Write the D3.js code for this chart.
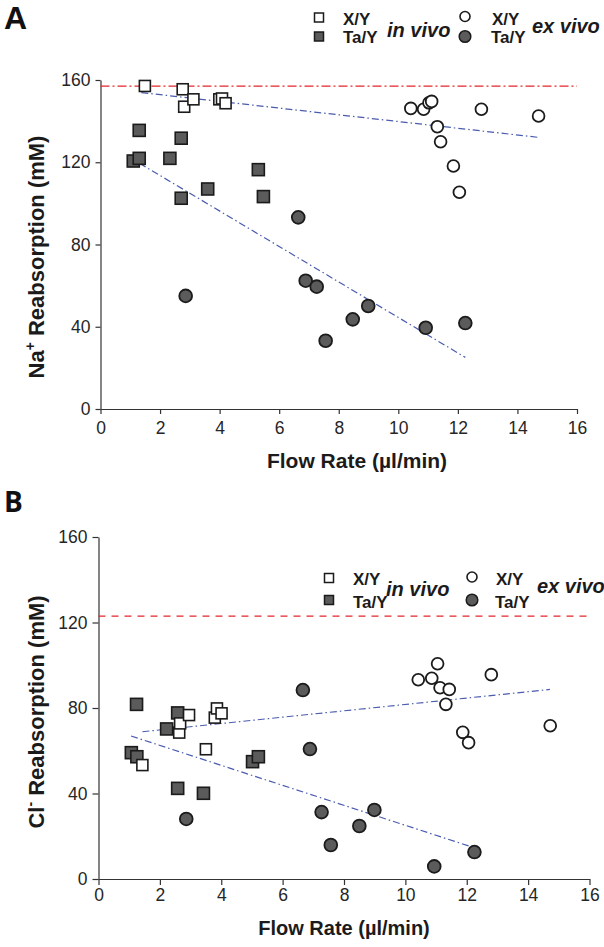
<!DOCTYPE html>
<html><head><meta charset="utf-8">
<script src="https://cdn.jsdelivr.net/npm/d3@7"></script>
<style>body{margin:0;background:#fff;} svg{display:block}</style>
</head><body>
<script>
// ---------- data ----------
const xTicks = [0, 2, 4, 6, 8, 10, 12, 14, 16];
const yTicks = [0, 40, 80, 120, 160];
const seriesNames = ["X/Y", "Ta/Y"];
const groupNames = ["in vivo", "ex vivo"];

// Panel A (Na+)
const A_xyIn_x = [1.49, 2.76, 2.81, 3.12, 3.99, 4.08, 4.20];
const A_xyIn_y = [157.1, 155.5, 147.0, 150.6, 150.6, 151.0, 148.7];
const A_taIn_x = [1.30, 1.10, 1.30, 2.33, 2.71, 2.71, 3.60, 5.30, 5.47];
const A_taIn_y = [135.5, 120.6, 121.9, 121.9, 131.7, 102.5, 107.0, 116.4, 103.3];
const A_xyEx_x = [10.42, 10.85, 11.03, 11.12, 11.31, 11.42, 11.85, 12.05, 12.79, 14.71];
const A_xyEx_y = [146.2, 145.8, 148.9, 149.6, 137.3, 130.0, 118.2, 105.4, 145.8, 142.5];
const A_taEx_x = [2.86, 6.64, 6.89, 7.26, 7.56, 8.47, 8.99, 10.92, 12.25];
const A_taEx_y = [55.0, 93.2, 62.4, 59.5, 33.2, 43.6, 50.1, 39.5, 41.8];
const A_refLine = 157;
const A_trend = [[1.37, 153.9, 14.71, 132.1], [1.31, 119.5, 12.25, 25.1]];

// Panel B (Cl-)
const B_xyIn_x = [1.43, 2.63, 2.66, 2.95, 3.50, 3.79, 3.86, 4.01];
const B_xyIn_y = [53.3, 68.5, 72.8, 76.7, 60.7, 75.5, 79.8, 77.5];
const B_taIn_x = [1.24, 1.07, 1.25, 2.22, 2.58, 2.58, 3.42, 5.02, 5.21];
const B_taIn_y = [81.7, 59.1, 57.2, 70.2, 77.7, 42.4, 40.1, 54.9, 57.2];
const B_xyEx_x = [10.42, 10.86, 11.05, 11.13, 11.43, 11.32, 11.87, 12.06, 12.80, 14.72];
const B_xyEx_y = [93.2, 93.9, 100.7, 89.5, 88.7, 81.7, 68.6, 63.8, 95.6, 71.7];
const B_taEx_x = [2.86, 6.66, 6.89, 7.27, 7.57, 8.50, 8.99, 10.94, 12.25];
const B_taEx_y = [28.1, 88.4, 60.8, 31.3, 15.9, 24.8, 32.3, 5.9, 12.6];
const B_refLine = 123;
const B_trend = [[1.43, 68.9, 14.71, 88.7], [1.06, 66.9, 12.25, 14.6]];

// ---------- drawing ----------
const FONT = "'Liberation Sans', Arial, Helvetica, sans-serif";
const INK = "#1b1b1b";
const GREY = "#5b5b5b";
const BLUE = "#4a5cae";
const RED = "#e3262b";

const svg = d3.select("body").append("svg").attr("width", 604).attr("height", 947);

function zip(xs, ys) { return xs.map((v, i) => ({x: v, y: ys[i]})); }

function squares(g, x, y, data, filled, size) {
  g.selectAll(null).data(data).enter().append("rect")
    .attr("x", d => x(d.x) - size / 2).attr("y", d => y(d.y) - size / 2)
    .attr("width", size).attr("height", size)
    .attr("fill", filled ? GREY : "#fff").attr("stroke", INK).attr("stroke-width", 1.6);
}
function circles(g, x, y, data, filled, r) {
  g.selectAll(null).data(data).enter().append("circle")
    .attr("cx", d => x(d.x)).attr("cy", d => y(d.y)).attr("r", r)
    .attr("fill", filled ? GREY : "#fff").attr("stroke", INK).attr("stroke-width", 1.8);
}

function panel(c) {
  const x = d3.scaleLinear().domain([0, 16]).range([c.x0, c.x1]);
  const y = d3.scaleLinear().domain([0, 160]).range([c.y0, c.y1]);
  const g = svg.append("g");

  // axes
  const ax = g.append("g").attr("transform", `translate(0,${c.y0})`)
    .call(d3.axisBottom(x).tickValues(xTicks).tickSize(c.tick).tickSizeOuter(0).tickPadding(c.xpad));
  const ay = g.append("g").attr("transform", `translate(${c.x0},0)`)
    .call(d3.axisLeft(y).tickValues(yTicks).tickSize(c.tick).tickSizeOuter(0).tickPadding(5));
  [ax, ay].forEach(a => {
    a.selectAll("path,line").attr("stroke", "#333").attr("stroke-width", 1.2);
    a.selectAll("text").attr("font-family", FONT).attr("font-size", 17.5).attr("fill", "#262626");
  });

  // reference line
  g.append("line").attr("x1", x(0)).attr("x2", x(16))
    .attr("y1", y(c.ref)).attr("y2", y(c.ref))
    .attr("stroke", RED).attr("stroke-width", 1.4).attr("stroke-dasharray", c.refDash);

  // trend lines
  g.selectAll(null).data(c.trend).enter().append("line")
    .attr("x1", d => x(d[0])).attr("y1", d => y(d[1]))
    .attr("x2", d => x(d[2])).attr("y2", d => y(d[3]))
    .attr("stroke", BLUE).attr("stroke-width", 1.2).attr("stroke-dasharray", "7,3,1.5,3");

  // markers
  squares(g, x, y, zip(c.taIn_x, c.taIn_y), true, 12);
  squares(g, x, y, zip(c.xyIn_x, c.xyIn_y), false, 11);
  circles(g, x, y, zip(c.taEx_x, c.taEx_y), true, 6.4);
  circles(g, x, y, zip(c.xyEx_x, c.xyEx_y), false, 5.9);

  // axis titles
  g.append("text").attr("x", c.xtX).attr("y", c.xtY).attr("text-anchor", "middle")
    .attr("font-family", FONT).attr("font-weight", "bold").attr("font-size", c.xtSize).attr("fill", INK)
    .text("Flow Rate (µl/min)");
  const yt = g.append("text").attr("transform", `translate(${c.ytX},${c.ytY}) rotate(-90)`)
    .attr("text-anchor", "middle").attr("font-family", FONT).attr("font-weight", "bold")
    .attr("font-size", 22).attr("fill", INK);
  yt.append("tspan").text(c.ion);
  yt.append("tspan").attr("dy", -9).attr("font-size", 14).text(c.charge);
  yt.append("tspan").attr("dy", 9).text(" Reabsorption (mM)");

  // panel letter
  g.append("text").attr("x", c.lx).attr("y", c.ly).attr("font-family", c.lfont)
    .attr("font-weight", "bold").attr("font-size", c.lsize).attr("fill", "#111").text(c.letter);

  // legend
  const L = c.leg;
  const lg = g.append("g").attr("font-family", FONT).attr("font-weight", "bold").attr("fill", INK);
  lg.append("rect").attr("x", L.sqX - 4.5).attr("y", L.r1 - 4.5).attr("width", 9).attr("height", 9)
    .attr("fill", "#fff").attr("stroke", INK).attr("stroke-width", 1.5);
  lg.append("rect").attr("x", L.sqX - 4.5).attr("y", L.r2 - 4.5).attr("width", 9).attr("height", 9)
    .attr("fill", GREY).attr("stroke", INK).attr("stroke-width", 1.5);
  lg.append("circle").attr("cx", L.ciX).attr("cy", L.r1 - 1).attr("r", 5)
    .attr("fill", "#fff").attr("stroke", INK).attr("stroke-width", 1.6);
  lg.append("circle").attr("cx", L.ciX).attr("cy", L.r2).attr("r", 5.8)
    .attr("fill", GREY).attr("stroke", INK).attr("stroke-width", 1.5);
  const t = (xx, yy, s, txt, italic) => lg.append("text").attr("x", xx).attr("y", yy)
    .attr("font-size", s).attr("font-style", italic ? "italic" : "normal").text(txt);
  t(L.t1X, L.b1, 17, seriesNames[0]);
  t(L.t1X, L.b2, 17, seriesNames[1]);
  t(L.inX, L.inB, 20, groupNames[0], true);
  t(L.t2X, L.b1, 17, seriesNames[0]);
  t(L.t2X - 1, L.b2, 17, seriesNames[1]);
  t(L.exX, L.exB, 20, groupNames[1], true);
}

panel({
  x0: 100.5, x1: 577, y0: 409, y1: 80, tick: 5, xpad: 8,
  ref: A_refLine, refDash: "9,3,2,3", trend: A_trend,
  xyIn_x: A_xyIn_x, xyIn_y: A_xyIn_y, taIn_x: A_taIn_x, taIn_y: A_taIn_y,
  xyEx_x: A_xyEx_x, xyEx_y: A_xyEx_y, taEx_x: A_taEx_x, taEx_y: A_taEx_y,
  xtX: 357, xtY: 468, xtSize: 21, ytX: 44, ytY: 257, ion: "Na", charge: "+",
  letter: "A", lx: 4, ly: 29, lsize: 32, lfont: FONT,
  leg: {sqX: 319, ciX: 465, r1: 17.5, r2: 36.5, b1: 25, b2: 43, t1X: 343, t2X: 492, inX: 387, inB: 37, exX: 532, exB: 33}
});

panel({
  x0: 98.5, x1: 589.5, y0: 879, y1: 537, tick: 6, xpad: 4,
  ref: B_refLine, refDash: "7,6", trend: B_trend,
  xyIn_x: B_xyIn_x, xyIn_y: B_xyIn_y, taIn_x: B_taIn_x, taIn_y: B_taIn_y,
  xyEx_x: B_xyEx_x, xyEx_y: B_xyEx_y, taEx_x: B_taEx_x, taEx_y: B_taEx_y,
  xtX: 344, xtY: 935, xtSize: 20, ytX: 44, ytY: 712, ion: "Cl", charge: "-",
  letter: "B", lx: 4, ly: 512, lsize: 28, lfont: "'Open Sans', " + FONT,
  leg: {sqX: 329, ciX: 472, r1: 578, r2: 600, b1: 585, b2: 608, t1X: 353, t2X: 496, inX: 386, inB: 596, exX: 537, exB: 593}
});
</script>
</body></html>
